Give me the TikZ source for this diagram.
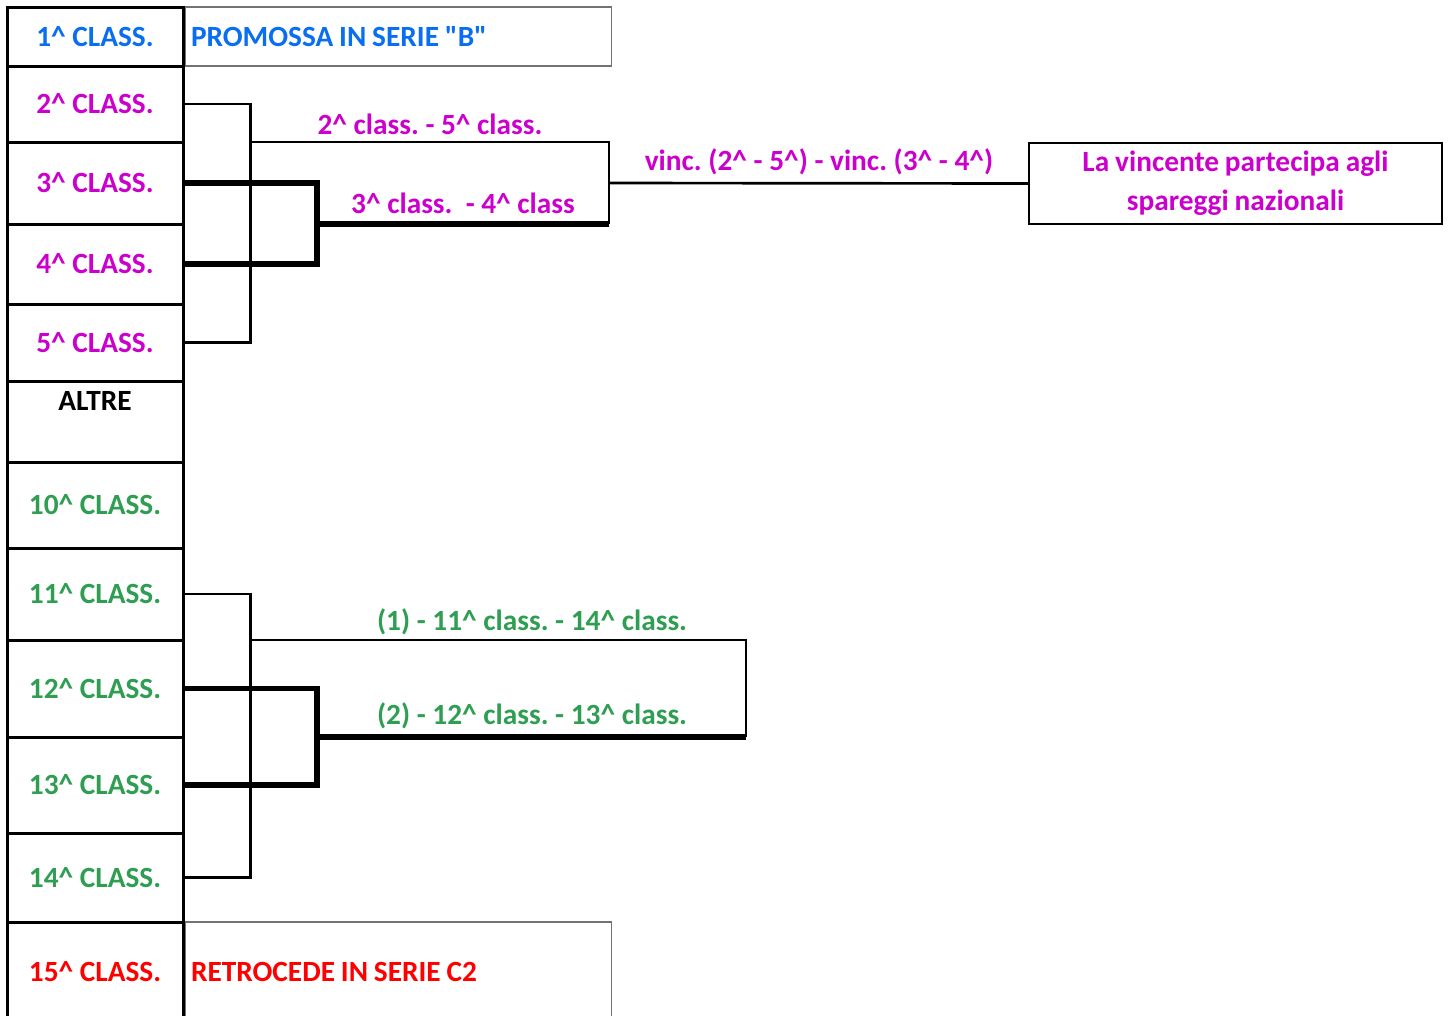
\documentclass[tikz,border=0pt]{standalone}
\usepackage{fontspec}
\setmainfont{Carlito}[Ligatures=TeXOff]
\usetikzlibrary{positioning}
\definecolor{promoblue}{HTML}{0A6EF0}
\definecolor{playoffmag}{HTML}{CC00CC}
\definecolor{playoutgreen}{HTML}{2F9E52}
\definecolor{retrored}{HTML}{FF0000}
\newcommand{\cir}{\textasciicircum}
\frenchspacing
\def\px{0.75pt}
\tikzset{
  txt/.style={font=\fontsize{22}{28}\selectfont\bfseries, inner sep=0pt},
  rowbox/.style={txt, draw=black, line width=2.25pt, minimum width=176*\px},
  resbox/.style={font=\fontsize{22}{29}\selectfont\bfseries, inner sep=0pt, draw=black!55, line width=0.8pt, inner xsep=6*\px, align=left,
    execute at begin node={\spaceskip=0.2em\relax}},
  thinlink/.style={line width=1.6pt},
  midlink/.style={line width=2pt},
  thicklink/.style={line width=3.8pt},
}
\begin{document}
\begin{tikzpicture}[x=\px,y=-\px]
    \useasboundingbox (0,0) rectangle (1449,1015);
    % classifica
    \node[rowbox, minimum height=59*\px, text=promoblue] (r1) at (95,36.5) {1\cir{} CLASS.};
    \node[rowbox, minimum height=76*\px, text=playoffmag] (r2) at (95,104) {2\cir{} CLASS.};
    \node[rowbox, minimum height=82*\px, text=playoffmag] (r3) at (95,183) {3\cir{} CLASS.};
    \node[rowbox, minimum height=80*\px, text=playoffmag] (r4) at (95,264) {4\cir{} CLASS.};
    \node[rowbox, minimum height=77*\px, text=playoffmag] (r5) at (95,342.5) {5\cir{} CLASS.};
    \node[rowbox, minimum height=81*\px] (r6) at (95,421.5) {};
    \node[txt, anchor=north] (altre) at ([yshift=-12*\px]r6.north) {ALTRE};
    \node[rowbox, minimum height=86*\px, text=playoutgreen] (r10) at (95,505) {10\cir{} CLASS.};
    \node[rowbox, minimum height=92*\px, text=playoutgreen] (r11) at (95,594) {11\cir{} CLASS.};
    \node[rowbox, minimum height=97*\px, text=playoutgreen] (r12) at (95,688.5) {12\cir{} CLASS.};
    \node[rowbox, minimum height=96*\px, text=playoutgreen] (r13) at (95,785) {13\cir{} CLASS.};
    \node[rowbox, minimum height=89*\px, text=playoutgreen] (r14) at (95,877.5) {14\cir{} CLASS.};
    \node[rowbox, minimum height=100*\px, text=retrored] (r15) at (95,972) {15\cir{} CLASS.};
    % esiti
    \node[resbox, anchor=west, minimum height=59*\px, text width=414*\px, text=promoblue] (promo) at (r1.east) {PROMOSSA IN SERIE "B"};
    \node[resbox, anchor=west, minimum height=100*\px, text width=414*\px, text=retrored] (retro) at (r15.east) {RETROCEDE IN SERIE C2};
    \node[resbox, draw=black, line width=1.2pt, align=center, minimum height=81*\px, text width=401*\px, text=playoffmag] (naz) at (1235.5,183.5) {La vincente partecipa agli\\spareggi nazionali};
    % play-off
    \coordinate (po1) at (249,142);
    \coordinate (po2) at (317,224);
    \coordinate (pof) at (609,183);
    \draw[thinlink] (r2.east) -- ++(66,0) |- (r5.east);
    \draw[thinlink] (po1) -- (po1 -| pof) -- (po2 -| pof);
    \draw[thicklink] (r3.east) -| (po2) |- (r4.east);
    \draw[thicklink] (po2) -- (po2 -| pof);
    \draw[midlink] (pof) -- (naz.west);
    \node[txt, text=playoffmag] (l25) at (430,124) {2\cir{} class. - 5\cir{} class.};
    \node[txt, text=playoffmag] (l34) at (463,203) {3\cir{} class.~ - 4\cir{} class};
    \node[txt, text=playoffmag] (lfin) at (819,162) {vinc. (2\cir{} - 5\cir) - vinc. (3\cir{} - 4\cir)};
    % play-out
    \coordinate (pl1) at (249,640);
    \coordinate (pl2) at (317,737);
    \coordinate (plf) at (746,737);
    \draw[thinlink] (r11.east) -- ++(66,0) |- (r14.east);
    \draw[thinlink] (pl1) -- (pl1 -| plf) -- (plf);
    \draw[thicklink] (r12.east) -| (pl2) |- (r13.east);
    \draw[thicklink] (pl2) -- (plf);
    \node[txt, text=playoutgreen] (l1114) at (532,622) {(1) - 11\cir{} class. - 14\cir{} class.};
    \node[txt, text=playoutgreen] (l1213) at (532,716) {(2) - 12\cir{} class. - 13\cir{} class.};
\end{tikzpicture}
\end{document}
